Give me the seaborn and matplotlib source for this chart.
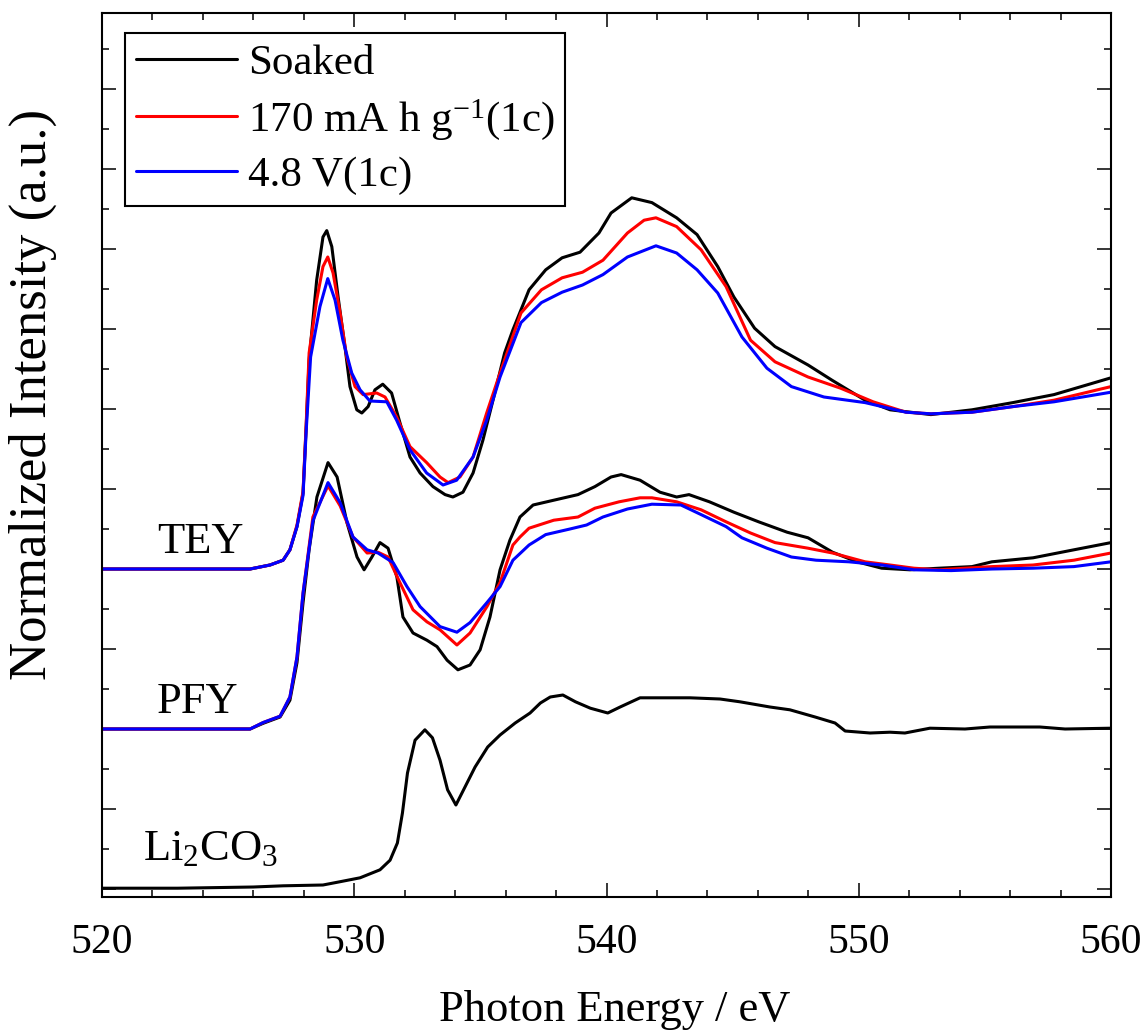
import matplotlib
matplotlib.use("Agg")
import numpy as np
import pandas as pd
import matplotlib.pyplot as plt
import seaborn as sns
from matplotlib.ticker import MultipleLocator

# O K-edge XAS spectra (normalized, before vertical stacking)
tey_soaked_e = [520, 522, 524, 525.87, 526.66, 527.18, 527.45, 527.73, 527.97, 528.09,
                528.21, 528.51, 528.76, 528.91, 529.11, 529.36, 529.63, 529.83, 530.10,
                530.30, 530.55, 530.82, 531.13, 531.48, 531.81, 532.21, 532.61, 533.12,
                533.60, 533.91, 534.31, 534.71, 535.10, 535.50, 535.96, 536.29, 536.93,
                537.59, 538.24, 538.95, 539.70, 540.18, 541.00, 541.80, 542.78, 543.59,
                544.41, 545.05, 545.87, 546.68, 547.99, 548.94, 550.25, 551.24, 552.86,
                554.49, 556.11, 557.74, 560.00]
tey_soaked_i = [0, 0, 0, 0, 0.05, 0.11, 0.24, 0.53, 0.95, 1.75,
                2.61, 3.61, 4.15, 4.23, 4.03, 3.40, 2.78, 2.28, 1.99,
                1.95, 2.03, 2.24, 2.31, 2.20, 1.83, 1.40, 1.20, 1.03,
                0.93, 0.90, 0.96, 1.20, 1.61, 2.11, 2.70, 2.99, 3.49,
                3.74, 3.89, 3.96, 4.20, 4.45, 4.64, 4.58, 4.39, 4.18,
                3.78, 3.40, 3.01, 2.78, 2.55, 2.36, 2.11, 1.99, 1.93,
                1.99, 2.08, 2.18, 2.39]

tey_170_e = [520, 522, 524, 525.87, 526.66, 527.18, 527.45, 527.73, 527.97, 528.09,
             528.21, 528.51, 528.76, 528.95, 529.16, 529.44, 529.70, 530.03, 530.35,
             530.89, 531.22, 531.68, 532.21, 532.87, 533.40, 533.72, 534.19, 534.71,
             535.25, 535.78, 536.61, 537.42, 538.24, 539.05, 539.86, 540.83, 541.49,
             541.96, 542.78, 543.75, 544.74, 545.71, 546.68, 547.99, 549.28, 550.57,
             551.87, 552.86, 554.49, 556.11, 557.74, 560.00]
tey_170_i = [0, 0, 0, 0, 0.05, 0.11, 0.24, 0.55, 0.97, 1.78,
             2.70, 3.36, 3.78, 3.90, 3.70, 3.20, 2.65, 2.28, 2.18,
             2.20, 2.15, 1.90, 1.53, 1.33, 1.15, 1.08, 1.15, 1.40,
             1.95, 2.45, 3.20, 3.49, 3.64, 3.71, 3.86, 4.20, 4.36,
             4.39, 4.28, 3.99, 3.53, 2.86, 2.59, 2.40, 2.26, 2.09,
             1.96, 1.94, 1.96, 2.03, 2.11, 2.28]

tey_48v_e = [520, 522, 524, 525.87, 526.66, 527.18, 527.45, 527.73, 527.97, 528.09,
             528.27, 528.64, 528.95, 529.24, 529.55, 529.90, 530.23, 530.62, 531.29,
             531.68, 532.21, 532.87, 533.52, 534.06, 534.71, 535.25, 535.78, 536.61,
             537.42, 538.24, 539.05, 539.86, 540.83, 541.96, 542.78, 543.59, 544.41,
             545.37, 546.36, 547.33, 548.62, 550.25, 551.87, 552.86, 554.49, 556.11,
             557.74, 560.00]
tey_48v_i = [0, 0, 0, 0, 0.05, 0.11, 0.24, 0.53, 0.92, 1.70,
             2.65, 3.28, 3.63, 3.36, 2.86, 2.45, 2.24, 2.10, 2.09,
             1.86, 1.49, 1.20, 1.05, 1.11, 1.40, 1.86, 2.40, 3.08,
             3.33, 3.46, 3.55, 3.68, 3.90, 4.04, 3.95, 3.74, 3.45,
             2.90, 2.51, 2.28, 2.15, 2.08, 1.96, 1.94, 1.96, 2.03,
             2.09, 2.21]

pfy_soaked_e = [520, 522, 524, 525.87, 526.38, 527.06, 527.45, 527.73, 527.97, 528.21,
                528.52, 528.96, 529.32, 529.71, 530.11, 530.39, 530.70, 531.02, 531.34,
                531.69, 531.93, 532.33, 532.88, 533.28, 533.68, 534.11, 534.59, 534.99,
                535.38, 535.78, 536.17, 536.57, 537.09, 537.91, 538.87, 539.54, 540.18,
                540.58, 541.33, 542.12, 542.78, 543.27, 544.08, 545.05, 546.03, 547.16,
                547.99, 548.96, 549.93, 550.91, 552.03, 553.18, 554.49, 555.28, 556.91,
                558.53, 560.00]
pfy_soaked_i = [0, 0, 0, 0, 0.07, 0.15, 0.36, 0.83, 1.58, 2.24,
                2.90, 3.33, 3.15, 2.58, 2.15, 1.99, 2.15, 2.33, 2.26,
                1.90, 1.40, 1.20, 1.11, 1.03, 0.86, 0.74, 0.80, 0.99,
                1.40, 1.99, 2.36, 2.65, 2.80, 2.86, 2.93, 3.03, 3.15,
                3.18, 3.11, 2.96, 2.90, 2.93, 2.84, 2.71, 2.59, 2.46,
                2.39, 2.21, 2.09, 2.01, 1.99, 2.01, 2.03, 2.09, 2.14,
                2.24, 2.33]

pfy_170_e = [520, 522, 524, 525.87, 526.38, 527.06, 527.45, 527.73, 527.97, 528.36,
             528.96, 529.44, 529.95, 530.51, 530.94, 531.34, 531.81, 532.33, 532.88,
             533.40, 534.07, 534.59, 535.26, 535.78, 536.29, 536.57, 536.93, 537.91,
             538.87, 539.54, 540.50, 541.33, 541.80, 542.78, 543.75, 544.74, 545.71,
             546.68, 547.99, 548.96, 550.25, 551.24, 552.19, 553.18, 555.28, 556.91,
             558.53, 560.00]
pfy_170_i = [0, 0, 0, 0, 0.08, 0.16, 0.40, 0.90, 1.70, 2.65,
             3.04, 2.79, 2.40, 2.20, 2.21, 2.15, 1.83, 1.49, 1.34,
             1.24, 1.05, 1.20, 1.53, 1.83, 2.30, 2.40, 2.51, 2.61,
             2.65, 2.76, 2.84, 2.89, 2.89, 2.84, 2.74, 2.59, 2.45,
             2.33, 2.26, 2.20, 2.09, 2.05, 2.01, 1.99, 2.03, 2.05,
             2.11, 2.20]

pfy_48v_e = [520, 522, 524, 525.87, 526.38, 527.06, 527.45, 527.73, 527.97, 528.36,
             528.96, 529.44, 529.95, 530.51, 530.94, 531.54, 532.09, 532.61, 533.40,
             534.07, 534.59, 535.26, 535.78, 536.29, 536.93, 537.59, 538.55, 539.21,
             539.86, 540.83, 541.80, 542.95, 543.75, 544.74, 545.37, 546.36, 547.33,
             548.31, 549.61, 550.91, 552.19, 553.66, 555.28, 556.91, 558.53, 560.00]
pfy_48v_i = [0, 0, 0, 0, 0.08, 0.16, 0.40, 0.90, 1.70, 2.60,
             3.08, 2.83, 2.40, 2.24, 2.20, 2.08, 1.78, 1.53, 1.28,
             1.21, 1.33, 1.58, 1.78, 2.11, 2.30, 2.43, 2.50, 2.55,
             2.65, 2.75, 2.81, 2.80, 2.68, 2.53, 2.39, 2.26, 2.15,
             2.11, 2.09, 2.05, 1.99, 1.98, 2.00, 2.01, 2.03, 2.09]

li2co3_e = [520, 523, 526.0, 527.18, 528.76, 529.42, 530.23, 531.02, 531.42, 531.71,
            531.91, 532.11, 532.41, 532.80, 533.10, 533.40, 533.70, 534.03, 534.39,
            534.79, 535.29, 535.78, 536.38, 536.97, 537.38, 537.77, 538.27, 538.77,
            539.36, 540.05, 540.54, 541.33, 542.12, 543.31, 544.50, 545.29, 546.48,
            547.27, 548.27, 549.06, 549.46, 550.45, 551.24, 551.83, 552.82, 554.21,
            555.20, 557.18, 558.18, 560.00]
li2co3_i = [0.01, 0.01, 0.025, 0.04, 0.05, 0.09, 0.14, 0.24, 0.36, 0.575,
            0.95, 1.45, 1.86, 1.99, 1.89, 1.61, 1.24, 1.05, 1.275,
            1.525, 1.775, 1.925, 2.075, 2.20, 2.325, 2.40, 2.425, 2.34,
            2.26, 2.20, 2.275, 2.39, 2.39, 2.39, 2.375, 2.34, 2.275,
            2.24, 2.15, 2.075, 1.975, 1.95, 1.96, 1.95, 2.01, 2.00,
            2.025, 2.025, 2.00, 2.01]

samples = ["Soaked", "170 mA h g$^{\\mathregular{-1}}$(1c)", "4.8 V(1c)"]
offsets = {"TEY": 4.0, "PFY": 2.0, "Li2CO3": 0.0}

series = [
    ("TEY", samples[0], tey_soaked_e, tey_soaked_i),
    ("TEY", samples[1], tey_170_e, tey_170_i),
    ("TEY", samples[2], tey_48v_e, tey_48v_i),
    ("PFY", samples[0], pfy_soaked_e, pfy_soaked_i),
    ("PFY", samples[1], pfy_170_e, pfy_170_i),
    ("PFY", samples[2], pfy_48v_e, pfy_48v_i),
    ("Li2CO3", "Li2CO3", li2co3_e, li2co3_i),
]

frames = []
for mode, sample, e, i in series:
    frames.append(pd.DataFrame({"energy": e,
                                "intensity": np.asarray(i) + offsets[mode],
                                "mode": mode, "sample": sample}))
df = pd.concat(frames, ignore_index=True)

colors = {samples[0]: "#000000", samples[1]: "#ff0000", samples[2]: "#0000ff",
          "Li2CO3": "#000000"}

sns.set_style("ticks")
plt.rcParams["font.family"] = ["Liberation Serif", "DejaVu Serif"]
plt.rcParams["mathtext.fontset"] = "custom"
plt.rcParams["mathtext.rm"] = "Liberation Serif"
plt.rcParams["mathtext.it"] = "Liberation Serif:italic"
plt.rcParams["text.color"] = "black"
plt.rcParams["axes.labelcolor"] = "black"

fig = plt.figure(figsize=(11.43, 10.32), dpi=100)
ax = fig.add_axes([0.08924, 0.13081, 0.88277, 0.85659])

handles = {}
for (mode, sample), sub in df.groupby(["mode", "sample"], sort=False):
    sns.lineplot(data=sub, x="energy", y="intensity", color=colors[sample],
                 linewidth=2.2, estimator=None, sort=False, ax=ax, legend=False)
    if mode == "TEY":
        handles[sample] = ax.lines[-1]

ax.set_xlim(520, 560)
ax.set_ylim(-0.1, 10.95)
ax.xaxis.set_major_locator(MultipleLocator(10))
ax.xaxis.set_minor_locator(MultipleLocator(2))
ax.yaxis.set_major_locator(MultipleLocator(1))
ax.yaxis.set_minor_locator(MultipleLocator(0.5))
ax.tick_params(which="both", direction="in", top=True, right=True,
               labelleft=False, color="black", width=1.1)
ax.tick_params(which="major", length=10)
ax.tick_params(which="minor", length=5)
ax.tick_params(axis="x", which="major", labelsize=30, pad=19, labelcolor="black")
for sp in ax.spines.values():
    sp.set_linewidth(1.5)
    sp.set_color("black")

ax.set_xlabel("Photon Energy / eV", fontsize=32, va="top")
ax.xaxis.set_label_coords(0.508, -0.105)
ax.set_ylabel("Normalized Intensity (a.u.)", fontsize=38, va="center")
ax.yaxis.set_label_coords(-0.069, 0.568)

ax.text(522.2, 4.2, "TEY", fontsize=32, ha="left", va="baseline")
ax.text(522.18, 2.2, "PFY", fontsize=32, ha="left", va="baseline")
ax.text(521.63, 0.36, "Li$_{\\mathregular{2}}$CO$_{\\mathregular{3}}$", fontsize=32,
        ha="left", va="baseline")

leg = ax.legend([handles[s] for s in samples], samples, loc="upper left",
                bbox_to_anchor=(0.0228, 0.977), borderaxespad=0, fontsize=31,
                frameon=True, fancybox=False, framealpha=1, edgecolor="black",
                borderpad=0.25, handlelength=2.35, handletextpad=0.25,
                labelspacing=0.32)
leg.get_frame().set_linewidth(1.5)

fig.savefig("out.png", dpi=100)
